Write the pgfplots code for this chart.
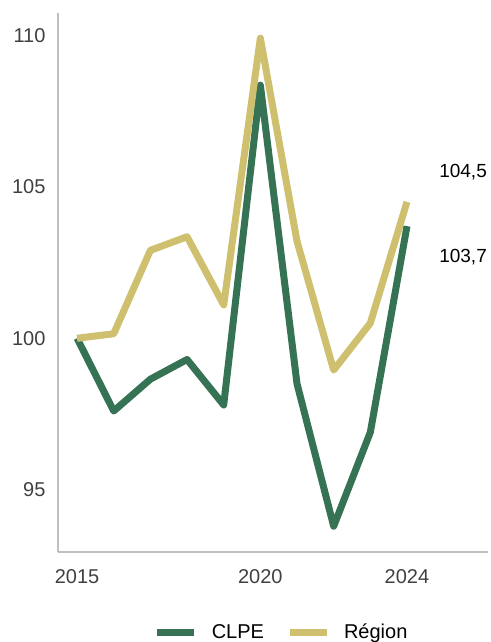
\documentclass[border=0pt]{standalone}
\usepackage{pgfplots}
\pgfplotsset{compat=1.18}
\usepackage{fontspec}
\setmainfont{Liberation Sans}
\definecolor{clpe}{RGB}{54,115,84}
\definecolor{region}{RGB}{207,192,112}
\definecolor{axgray}{RGB}{191,191,191}
\definecolor{tickgray}{RGB}{64,64,64}
\begin{document}
\begin{tikzpicture}
\useasboundingbox (-58pt,-90pt) rectangle (432pt,552pt);
\begin{axis}[
  at={(0,0)}, anchor=origin,
  scale only axis, width=430pt, height=539pt,
  xmin=2014.48, xmax=2026.21,
  ymin=92.95, ymax=110.73,
  axis x line*=bottom, axis y line*=left,
  axis line style={axgray, line width=2pt, -},
  xtick={2015,2020,2024},
  ytick={95,100,105,110},
  xticklabel style={/pgf/number format/1000 sep={}},
  /pgf/number format/assume math mode=true,
  tick style={draw=none},
  ticklabel style={font=\fontsize{20}{22}\selectfont, text=tickgray},
  xticklabel style={yshift=-14pt},
  yticklabel style={xshift=-9pt},
  legend style={draw=none, fill=none, at={(0.52,-80pt)}, anchor=center,
    legend columns=2, font=\fontsize{20}{22}\selectfont,
    /tikz/every odd column/.append style={column sep=12pt},
    /tikz/every even column/.append style={column sep=20pt}},
  legend image code/.code={\draw[#1, line width=7pt] (0pt,0pt) -- (37pt,0pt);},
  line join=round,
]
\addplot[clpe, line width=7pt] coordinates {
(2015,100.0) (2016,97.6) (2017,98.65) (2018,99.3) (2019,97.8) (2020,108.35)
(2021,98.5) (2022,93.8) (2023,96.9) (2024,103.7)};
\addlegendentry{CLPE}
\addplot[region, line width=7pt] coordinates {
(2015,100.0) (2016,100.15) (2017,102.9) (2018,103.35) (2019,101.1) (2020,109.9)
(2021,103.2) (2022,98.95) (2023,100.5) (2024,104.5)};
\addlegendentry{Région}
\node[font=\fontsize{19}{21}\selectfont] at (axis cs:2025.53,105.48) {104,5};
\node[font=\fontsize{19}{21}\selectfont] at (axis cs:2025.53,102.68) {103,7};
\end{axis}
\end{tikzpicture}
\end{document}
